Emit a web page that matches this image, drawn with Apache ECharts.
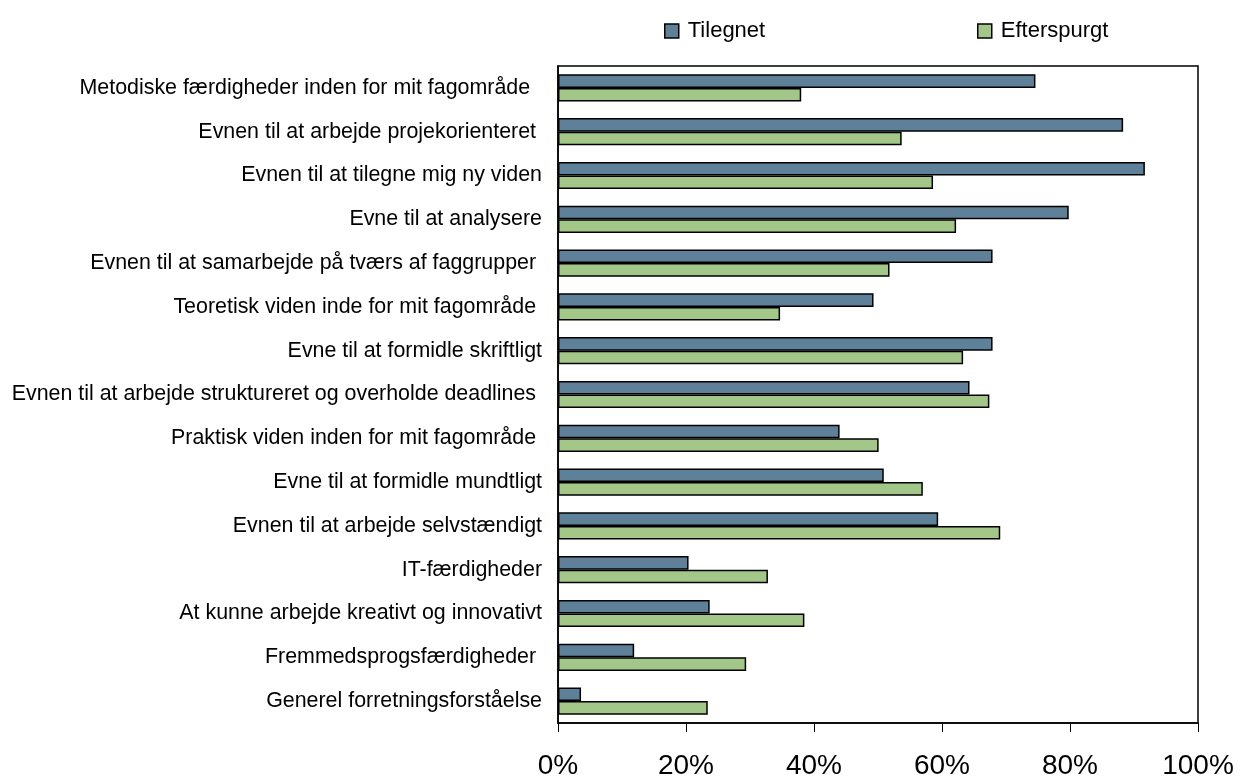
<!DOCTYPE html>
<html>
<head>
<meta charset="utf-8">
<script src="https://cdn.jsdelivr.net/npm/echarts@6/dist/echarts.min.js"></script>
<style>
  html, body { margin: 0; padding: 0; background: #fff; }
  #chart { width: 1247px; height: 779px; }
</style>
</head>
<body>
<div id="chart"></div>
<script>
// kategorier (oppefra og ned)
var categories = [
    'Metodiske færdigheder inden for mit fagområde  ',
    'Evnen til at arbejde projekorienteret ',
    'Evnen til at tilegne mig ny viden',
    'Evne til at analysere',
    'Evnen til at samarbejde på tværs af faggrupper ',
    'Teoretisk viden inde for mit fagområde ',
    'Evne til at formidle skriftligt',
    'Evnen til at arbejde struktureret og overholde deadlines ',
    'Praktisk viden inden for mit fagområde ',
    'Evne til at formidle mundtligt',
    'Evnen til at arbejde selvstændigt',
    'IT-færdigheder',
    'At kunne arbejde kreativt og innovativt',
    'Fremmedsprogsfærdigheder ',
    'Generel forretningsforståelse'
];
var tilegnet = [74.6, 88.3, 91.7, 79.8, 67.9, 49.3, 67.9, 64.3, 44.0, 50.9, 59.4, 20.4, 23.7, 11.9, 3.6];
var efterspurgt = [38.0, 53.7, 58.6, 62.2, 51.8, 34.7, 63.3, 67.4, 50.1, 57.0, 69.1, 32.8, 38.5, 29.4, 23.4];
var xTicks = [0, 20, 40, 60, 80, 100];

var blue = '#5e8199';
var green = '#a3c788';

// en legend pr. serie, saa de kan placeres hver for sig
function legendAt(left, name) {
    return {
        top: 15,
        left: left,
        itemWidth: 14,
        itemHeight: 14,
        icon: 'rect',
        itemStyle: { borderColor: '#000', borderWidth: 1.5 },
        textStyle: { fontSize: 22, color: '#000', padding: [0, 0, 0, 4] },
        data: [name]
    };
}

var chart = echarts.init(document.getElementById('chart'));
chart.setOption({
    animation: false,
    textStyle: { fontFamily: 'Liberation Sans, Arial, sans-serif' },
    legend: [legendAt(659, 'Tilegnet'), legendAt(972, 'Efterspurgt')],
    grid: {
        left: 558,
        right: 49,
        top: 66,
        bottom: 56,
        outerBoundsMode: 'none',
        show: true,
        borderColor: '#000',
        borderWidth: 1.5
    },
    xAxis: {
        type: 'value',
        min: xTicks[0],
        max: xTicks[xTicks.length - 1],
        interval: 20,
        splitLine: { show: false },
        axisLine: { show: true, lineStyle: { color: '#000', width: 1.5 } },
        axisTick: { show: true, length: 9, lineStyle: { color: '#000' } },
        axisLabel: {
            color: '#000',
            fontSize: 28,
            margin: 29,
            formatter: '{value}%'
        }
    },
    yAxis: {
        type: 'category',
        inverse: true,
        data: categories,
        axisLine: { show: true, lineStyle: { color: '#000', width: 1.5 } },
        axisTick: { show: false },
        axisLabel: { color: '#000', fontSize: 21.4, margin: 16 }
    },
    series: [
        {
            name: 'Tilegnet',
            type: 'bar',
            data: tilegnet,
            barGap: '0%',
            barCategoryGap: '38%',
            itemStyle: { color: blue, borderColor: '#000', borderWidth: 1.5 }
        },
        {
            name: 'Efterspurgt',
            type: 'bar',
            data: efterspurgt,
            itemStyle: { color: green, borderColor: '#000', borderWidth: 1.5 }
        }
    ]
});
</script>
</body>
</html>
